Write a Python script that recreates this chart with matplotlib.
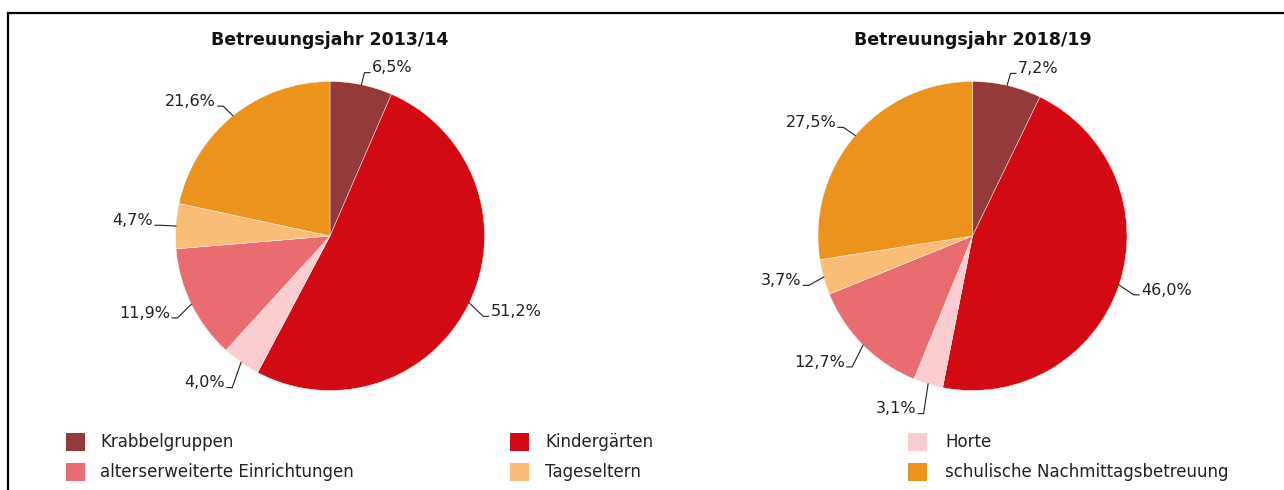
import numpy as np
import matplotlib
matplotlib.use("Agg")
import matplotlib.pyplot as plt
from matplotlib.patches import Rectangle
from matplotlib.lines import Line2D

categories = ["Krabbelgruppen", "Kindergärten", "Horte",
              "alterserweiterte Einrichtungen", "Tageseltern",
              "schulische Nachmittagsbetreuung"]
colors = ["#943a3a", "#d20a14", "#fccdd0", "#e86c70", "#f9bd78", "#ec931e"]
titles = ["Betreuungsjahr 2013/14", "Betreuungsjahr 2018/19"]
values_2013 = [6.5, 51.2, 4.0, 11.9, 4.7, 21.6]
values_2018 = [7.2, 46.0, 3.1, 12.7, 3.7, 27.5]
series = [values_2013, values_2018]

FONT = ["Liberation Sans Narrow", "DejaVu Sans"]
plt.rcParams["font.family"] = FONT

W, H = 1284, 490
fig = plt.figure(figsize=(W / 100, H / 100), dpi=100)

R_PX = 154.5
LIM = 1.6
centers = [(330, 236), (972.5, 236)]

for (cx, cy), vals, title in zip(centers, series, titles):
    half = LIM * R_PX
    ax = fig.add_axes([(cx - half) / W, (H - cy - half) / H, 2 * half / W, 2 * half / H])
    wedges, _ = ax.pie(vals, colors=colors, startangle=90, counterclock=False,
                       radius=1.0, wedgeprops=dict(edgecolor="white", linewidth=0.3))
    ax.set_xlim(-LIM, LIM)
    ax.set_ylim(-LIM, LIM)
    ax.set_aspect("equal")
    ax.axis("off")
    for w, v in zip(wedges, vals):
        ang = np.deg2rad((w.theta1 + w.theta2) / 2)
        c, s = np.cos(ang), np.sin(ang)
        p0 = (c * 1.0, s * 1.0)
        fy = 1.08 if s >= 0 else 1.2
        p1 = (c * 1.1, s * fy)
        side = 1 if c >= 0 else -1
        p2 = (p1[0] + side * 0.035, p1[1])
        ax.add_line(Line2D([p0[0], p1[0], p2[0]], [p0[1], p1[1], p2[1]],
                           color="#222222", lw=0.8))
        ax.text(p2[0] + side * 0.012, p2[1] + 0.03, f"{v:.1f}%".replace(".", ","),
                ha="left" if side > 0 else "right", va="center",
                fontsize=11.5, color="#222222")
    fig.text(cx / W, 1 - 40 / H, title, ha="center", va="center",
             fontsize=12.5, fontweight="bold", color="#111111",
             family=["DejaVu Sans"])

# Legend (manual, row-wise)
patch_x = [66, 510, 908]
text_x = [100, 545, 945]
row_y = [442, 472]
for i, (cat, col) in enumerate(zip(categories, colors)):
    r, cidx = divmod(i, 3)
    y = row_y[r]
    fig.add_artist(Rectangle((patch_x[cidx] / W, (H - y - 9) / H), 19 / W, 18 / H,
                             transform=fig.transFigure, facecolor=col, edgecolor="none"))
    fig.text(text_x[cidx] / W, 1 - y / H, cat, ha="left", va="center",
             fontsize=12, color="#222222")

# Border lines (top and left)
fig.add_artist(Line2D([8 / W, 1.0], [1 - 13 / H, 1 - 13 / H], transform=fig.transFigure,
                      color="black", lw=1.6))
fig.add_artist(Line2D([8 / W, 8 / W], [0, 1 - 13 / H], transform=fig.transFigure,
                      color="black", lw=1.6))

fig.savefig("out.png", dpi=100)
